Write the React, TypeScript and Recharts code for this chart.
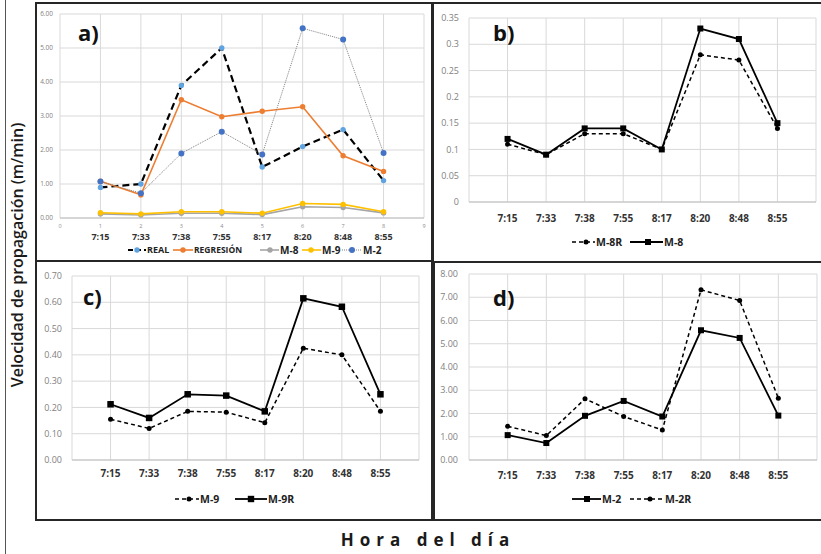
import React from "react";
import { LineChart, Line, XAxis, YAxis, CartesianGrid } from "recharts";

const HOURS = ["7:15", "7:33", "7:38", "7:55", "8:17", "8:20", "8:48", "8:55"];
const REAL = [0.9, 1.0, 3.9, 5.0, 1.5, 2.1, 2.6, 1.1];
const REGRESION = [1.08, 0.68, 3.48, 2.98, 3.14, 3.27, 1.83, 1.37];
const M8 = [0.12, 0.09, 0.14, 0.14, 0.1, 0.33, 0.31, 0.15];
const M8R = [0.11, 0.09, 0.13, 0.13, 0.1, 0.28, 0.27, 0.14];
const M9 = [0.155, 0.12, 0.185, 0.182, 0.142, 0.425, 0.4, 0.185];
const M9R = [0.212, 0.16, 0.25, 0.245, 0.185, 0.615, 0.583, 0.25];
const M2 = [1.07, 0.73, 1.9, 2.54, 1.87, 5.58, 5.25, 1.91];
const M2R = [1.45, 1.05, 2.63, 1.87, 1.29, 7.32, 6.86, 2.66];

const X_TICKS = [0, 1, 2, 3, 4, 5, 6, 7, 8, 9];
const TICKS_A = [0, 1, 2, 3, 4, 5, 6];
const TICKS_B = [0, 0.05, 0.1, 0.15, 0.2, 0.25, 0.3, 0.35];
const TICKS_C = [0, 0.1, 0.2, 0.3, 0.4, 0.5, 0.6, 0.7];
const TICKS_D = [0, 1, 2, 3, 4, 5, 6, 7, 8];

const data = HOURS.map((h, i) => ({
  x: i + 1,
  hora: h,
  real: REAL[i],
  regresion: REGRESION[i],
  m8: M8[i],
  m8r: M8R[i],
  m9: M9[i],
  m9r: M9R[i],
  m2: M2[i],
  m2r: M2R[i],
}));

const FONT = "'Open Sans', 'Liberation Sans', sans-serif";
const GRID = "#d9d9d9";

const square = (size: number) => (p: any) => (
  <rect
    key={`sq-${p.index}`}
    x={p.cx - size / 2}
    y={p.cy - size / 2}
    width={size}
    height={size}
    fill="#000"
  />
);

function hourTick(offset: number, small: boolean) {
  return (p: any) => {
    const v = p.payload.value;
    return (
      <g>
        {small && (
          <text x={p.x} y={p.y + 10} textAnchor="middle" fontSize={5.5} fill="#8c8c8c" fontFamily={FONT}>
            {v}
          </text>
        )}
        {v >= 1 && v <= 8 && (
          <text
            x={p.x}
            y={p.y + offset}
            textAnchor="middle"
            fontSize={small ? 9 : 10}
            fontWeight={700}
            fill="#333"
            fontFamily={FONT}
          >
            {HOURS[v - 1]}
          </text>
        )}
      </g>
    );
  };
}

type PanelProps = {
  left: number;
  top: number;
  width: number;
  height: number;
  margin: { top: number; right: number; bottom: number; left: number };
  yWidth: number;
  yTicks: number[];
  yFmt: (v: number) => string;
  yFont: number;
  yGap: number;
  tickOffset: number;
  small?: boolean;
  children: React.ReactNode;
};

function Panel(p: PanelProps) {
  return (
    <div style={{ position: "absolute", left: p.left, top: p.top }}>
      <LineChart width={p.width} height={p.height} data={data} margin={p.margin}>
        <CartesianGrid stroke={GRID} strokeWidth={1} />
        <XAxis
          dataKey="x"
          type="number"
          domain={[0, 9]}
          ticks={X_TICKS}
          interval={0}
          tickLine={false}
          tickSize={0}
          tickMargin={0}
          height={30}
          axisLine={{ stroke: "#bfbfbf" }}
          tick={hourTick(p.tickOffset, !!p.small)}
        />
        <YAxis
          type="number"
          domain={[p.yTicks[0], p.yTicks[p.yTicks.length - 1]]}
          ticks={p.yTicks}
          interval={0}
          tickFormatter={p.yFmt}
          axisLine={false}
          tickLine={false}
          tickSize={0}
          tickMargin={p.yGap}
          width={p.yWidth}
          tick={{ fontSize: p.yFont, fill: "#7f7f7f", fontFamily: FONT }}
        />
        {p.children}
      </LineChart>
    </div>
  );
}

type LegendItem = {
  label: string;
  x1: number;
  x2: number;
  mx: number;
  stroke: string;
  width: number;
  dash?: string;
  marker: "circle" | "square";
  markerFill: string;
  r: number;
  fontSize: number;
};

function LegendRow({ y, items }: { y: number; items: LegendItem[] }) {
  return (
    <g>
      {items.map((it) => (
        <g key={it.label}>
          <line x1={it.x1} x2={it.x2} y1={y} y2={y} stroke={it.stroke} strokeWidth={it.width} strokeDasharray={it.dash} />
          {it.marker === "circle" ? (
            <circle cx={it.mx} cy={y} r={it.r} fill={it.markerFill} />
          ) : (
            <rect x={it.mx - it.r} y={y - it.r} width={it.r * 2} height={it.r * 2} fill={it.markerFill} />
          )}
          <text x={it.x2 + 1} y={y + it.fontSize * 0.36} fontSize={it.fontSize} fontWeight={700} fill="#222" fontFamily={FONT}>
            {it.label}
          </text>
        </g>
      ))}
    </g>
  );
}

const fmt2 = (v: number) => v.toFixed(2);
const fmtG = (v: number) => String(Number(v.toFixed(2)));

export default function App() {
  const border = "2px solid #262626";
  return (
    <div style={{ position: "absolute", left: 0, top: 0, width: 821, height: 554, background: "#fff", overflow: "hidden", fontFamily: FONT }}>
      <div style={{ position: "absolute", left: 5, top: 0, width: 1, height: 554, background: "#555" }} />

      <Panel
        left={36}
        top={3}
        width={397}
        height={258}
        margin={{ top: 11, right: 9, bottom: 13, left: 0 }}
        yWidth={24}
        yTicks={TICKS_A}
        yFmt={fmt2}
        yFont={6.5}
        yGap={7}
        tickOffset={22}
        small
      >
        <Line dataKey="real" stroke="#000" strokeWidth={2.2} strokeDasharray="7 4" dot={{ r: 2.7, fill: "#5fa3e0", stroke: "none" }} isAnimationActive={false} />
        <Line dataKey="regresion" stroke="#ED7D31" strokeWidth={1.6} dot={{ r: 2.7, fill: "#ED7D31", stroke: "none" }} isAnimationActive={false} />
        <Line dataKey="m8" stroke="#A5A5A5" strokeWidth={1.6} dot={{ r: 2.7, fill: "#A5A5A5", stroke: "none" }} isAnimationActive={false} />
        <Line dataKey="m9" stroke="#FFC000" strokeWidth={1.6} dot={{ r: 2.7, fill: "#FFC000", stroke: "none" }} isAnimationActive={false} />
        <Line dataKey="m2" stroke="#808080" strokeWidth={1} strokeDasharray="1 1" dot={{ r: 3, fill: "#4472C4", stroke: "none" }} isAnimationActive={false} />
      </Panel>

      <Panel
        left={433}
        top={3}
        width={388}
        height={259}
        margin={{ top: 15, right: 5, bottom: 30, left: 0 }}
        yWidth={36}
        yTicks={TICKS_B}
        yFmt={fmtG}
        yFont={9}
        yGap={10}
        tickOffset={19.5}
      >
        <Line dataKey="m8r" stroke="#000" strokeWidth={1.5} strokeDasharray="4 3" dot={{ r: 2.5, fill: "#000", stroke: "none" }} isAnimationActive={false} />
        <Line dataKey="m8" stroke="#000" strokeWidth={1.8} dot={square(6)} isAnimationActive={false} />
      </Panel>

      <Panel
        left={36}
        top={262}
        width={397}
        height={258}
        margin={{ top: 14, right: 14, bottom: 30, left: 0 }}
        yWidth={36}
        yTicks={TICKS_C}
        yFmt={fmt2}
        yFont={9}
        yGap={10}
        tickOffset={16.5}
      >
        <Line dataKey="m9" stroke="#000" strokeWidth={1.5} strokeDasharray="4 3" dot={{ r: 2.5, fill: "#000", stroke: "none" }} isAnimationActive={false} />
        <Line dataKey="m9r" stroke="#000" strokeWidth={1.8} dot={square(6.5)} isAnimationActive={false} />
      </Panel>

      <Panel
        left={434}
        top={262}
        width={387}
        height={258}
        margin={{ top: 12, right: 4, bottom: 30, left: 0 }}
        yWidth={35}
        yTicks={TICKS_D}
        yFmt={fmt2}
        yFont={9}
        yGap={11}
        tickOffset={18.5}
      >
        <Line dataKey="m2r" stroke="#000" strokeWidth={1.5} strokeDasharray="4 3" dot={{ r: 2.5, fill: "#000", stroke: "none" }} isAnimationActive={false} />
        <Line dataKey="m2" stroke="#000" strokeWidth={1.8} dot={square(6)} isAnimationActive={false} />
      </Panel>

      <div style={{ position: "absolute", left: 35, top: 2, width: 398, height: 260, border, boxSizing: "border-box" }} />
      <div style={{ position: "absolute", left: 432, top: 2, width: 395, height: 261, border, boxSizing: "border-box" }} />
      <div style={{ position: "absolute", left: 35, top: 260, width: 398, height: 261, border, boxSizing: "border-box" }} />
      <div style={{ position: "absolute", left: 433, top: 261, width: 394, height: 260, border, boxSizing: "border-box" }} />

      <svg width={821} height={554} style={{ position: "absolute", left: 0, top: 0, pointerEvents: "none" }}>
        <text x={78} y={41} fontSize={22} fontWeight={700} fill="#111" fontFamily={FONT}>a)</text>
        <text x={493} y={41} fontSize={22} fontWeight={700} fill="#111" fontFamily={FONT}>b)</text>
        <text x={83} y={305} fontSize={22} fontWeight={700} fill="#111" fontFamily={FONT}>c)</text>
        <text x={493} y={306} fontSize={22} fontWeight={700} fill="#111" fontFamily={FONT}>d)</text>

        <text
          x={17}
          y={255}
          transform="rotate(-90 17 255)"
          textAnchor="middle"
          dominantBaseline="central"
          fontSize={16}
          fontWeight={600}
          fill="#1a1a1a"
          fontFamily={FONT}
        >
          Velocidad de propagación (m/min)
        </text>
        <text x={428} y={546} textAnchor="middle" fontSize={17} fontWeight={700} letterSpacing={6} fill="#1a1a1a" fontFamily={FONT}>
          Hora del día
        </text>

        <LegendRow
          y={250}
          items={[
            { label: "REAL", x1: 128, x2: 146, mx: 137, stroke: "#000", width: 2.2, dash: "5 3", marker: "circle", markerFill: "#5fa3e0", r: 2.7, fontSize: 9 },
            { label: "REGRESIÓN", x1: 173, x2: 193, mx: 183, stroke: "#ED7D31", width: 1.6, marker: "circle", markerFill: "#ED7D31", r: 2.7, fontSize: 8.5 },
            { label: "M-8", x1: 260, x2: 279, mx: 270, stroke: "#A5A5A5", width: 1.6, marker: "circle", markerFill: "#A5A5A5", r: 2.7, fontSize: 10 },
            { label: "M-9", x1: 302, x2: 321, mx: 311, stroke: "#FFC000", width: 1.6, marker: "circle", markerFill: "#FFC000", r: 2.7, fontSize: 10 },
            { label: "M-2", x1: 342, x2: 362, mx: 352, stroke: "#808080", width: 1, dash: "1 1", marker: "circle", markerFill: "#4472C4", r: 3, fontSize: 10 },
          ]}
        />
        <LegendRow
          y={242}
          items={[
            { label: "M-8R", x1: 572, x2: 595, mx: 586, stroke: "#000", width: 1.5, dash: "4 3", marker: "circle", markerFill: "#000", r: 2.5, fontSize: 10.5 },
            { label: "M-8", x1: 630, x2: 663, mx: 648, stroke: "#000", width: 1.8, marker: "square", markerFill: "#000", r: 3, fontSize: 10.5 },
          ]}
        />
        <LegendRow
          y={499}
          items={[
            { label: "M-9", x1: 175, x2: 199, mx: 189, stroke: "#000", width: 1.5, dash: "4 3", marker: "circle", markerFill: "#000", r: 2.5, fontSize: 10.5 },
            { label: "M-9R", x1: 235, x2: 267, mx: 251, stroke: "#000", width: 1.8, marker: "square", markerFill: "#000", r: 3.2, fontSize: 10.5 },
          ]}
        />
        <LegendRow
          y={499}
          items={[
            { label: "M-2", x1: 572, x2: 601, mx: 587, stroke: "#000", width: 1.8, marker: "square", markerFill: "#000", r: 3, fontSize: 10.5 },
            { label: "M-2R", x1: 630, x2: 664, mx: 650, stroke: "#000", width: 1.5, dash: "4 3", marker: "circle", markerFill: "#000", r: 2.5, fontSize: 10.5 },
          ]}
        />
      </svg>
    </div>
  );
}
